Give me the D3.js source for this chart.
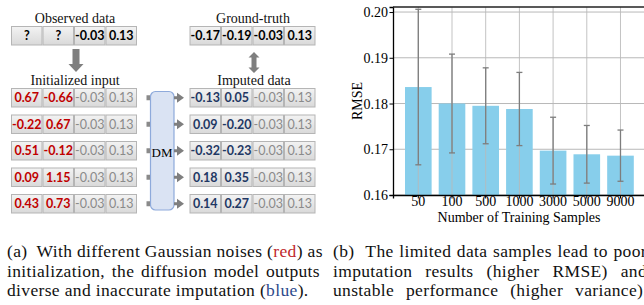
<!DOCTYPE html>
<html>
<head>
<meta charset="utf-8">
<script src="https://cdn.jsdelivr.net/npm/d3@7"></script>
<style>
  body { margin: 0; background: #fff; }
  svg { display: block; }
  .serif { font-family: 'Liberation Serif', 'Times New Roman', Times, 'DejaVu Serif', 'Noto Serif', serif; }
</style>
</head>
<body>
<svg width="644" height="305"></svg>
<script>
// ---- data for panel (a)
const observed = ["?", "?", "-0.03", "0.13"];
const groundTruth = ["-0.17", "-0.19", "-0.03", "0.13"];
const knownValues = ["-0.03", "0.13"];
const noiseInit = [["0.67", "-0.66"], ["-0.22", "0.67"], ["0.51", "-0.12"], ["0.09", "1.15"], ["0.43", "0.73"]];
const imputedValues = [["-0.13", "0.05"], ["0.09", "-0.20"], ["-0.32", "-0.23"], ["0.18", "0.35"], ["0.14", "0.27"]];

// ---- data for panel (b)
const sampleSizes = ["50", "100", "500", "1000", "3000", "5000", "9000"];
const rmseMean = [0.1836, 0.1800, 0.1795, 0.1788, 0.1697, 0.1689, 0.1686];
const rmseStd = [0.0170, 0.0108, 0.0083, 0.0080, 0.0073, 0.0063, 0.0056];
const rmseTicks = [0.16, 0.17, 0.18, 0.19, 0.20];

const svg = d3.select('svg');
const sans = 'Lato, "Open Sans", sans-serif';

const defs = svg.append('defs');
const grad = defs.append('linearGradient').attr('id', 'cellFill')
  .attr('x1', 0).attr('y1', 0).attr('x2', 0).attr('y2', 1);
grad.append('stop').attr('offset', 0).attr('stop-color', '#f3f3f3');
grad.append('stop').attr('offset', 1).attr('stop-color', '#d9d9d9');

// ================= panel (a): the diagram =================
const a = svg.append('g');
const leftCols = d3.scaleBand().domain(d3.range(4)).range([11, 137]);
const rightCols = d3.scaleBand().domain(d3.range(4)).range([189.5, 315.5]);
const rowScale = d3.scaleBand().domain(d3.range(5)).range([88, 213.5]).paddingInner(0.264);
const rowH = rowScale.bandwidth();

// draw one row of four cells; cells = [{text, color, bold}]
function drawRow(cols, y, cells) {
  const g = a.append('g').attr('transform', `translate(0,${y})`);
  const c = g.selectAll('g').data(cells).enter().append('g');
  c.append('rect')
    .attr('x', (d, i) => cols(i) + 0.5)
    .attr('y', 0.5)
    .attr('width', cols.bandwidth() - 1)
    .attr('height', rowH - 1)
    .attr('fill', 'url(#cellFill)')
    .attr('stroke', '#b5b5b5')
    .attr('stroke-width', 1);
  c.append('text')
    .attr('x', (d, i) => cols(i) + cols.bandwidth() / 2)
    .attr('y', rowH / 2)
    .attr('dy', '0.36em')
    .attr('text-anchor', 'middle')
    .style('font-family', sans)
    .style('font-size', '12.5px')
    .style('font-weight', d => d.bold ? 700 : 400)
    .attr('fill', d => d.color)
    .text(d => d.text);
}

const plain = (v, color) => ({ text: v, color: color, bold: true });
const known = knownValues.map(v => ({ text: v, color: '#8a8a8a', bold: false }));

drawRow(leftCols, 26, observed.map(v => plain(v, '#000')));
drawRow(rightCols, 26, groundTruth.map(v => plain(v, '#000')));
noiseInit.forEach((r, i) => drawRow(leftCols, rowScale(i), r.map(v => plain(v, '#c00000')).concat(known)));
imputedValues.forEach((r, i) => drawRow(rightCols, rowScale(i), r.map(v => plain(v, '#1f3864')).concat(known)));

// titles
const titles = [
  { text: 'Observed data', x: 75, y: 23 },
  { text: 'Ground-truth', x: 253, y: 23 },
  { text: 'Initialized input', x: 75, y: 85 },
  { text: 'Imputed data', x: 254, y: 85 }
];
a.selectAll('.ttl').data(titles).enter().append('text')
  .attr('class', 'serif')
  .attr('x', d => d.x).attr('y', d => d.y)
  .attr('text-anchor', 'middle')
  .attr('font-size', 14)
  .attr('fill', '#111')
  .text(d => d.text);

// down arrow observed -> initialized
a.append('path')
  .attr('d', 'M72.5,49 h7 v15 h4 l-7.5,8 l-7.5,-8 h4 z')
  .attr('fill', '#7f7f7f');
// double arrow ground truth <-> imputed
a.append('path')
  .attr('d', 'M254,52 l5.5,5.5 h-3 v10 h3 l-5.5,5.5 l-5.5,-5.5 h3 v-10 h-3 z')
  .attr('fill', '#7f7f7f');

// DM box
a.append('rect')
  .attr('x', 150.5).attr('y', 91.5).attr('width', 23.5).attr('height', 118.5)
  .attr('rx', 5)
  .attr('fill', '#dae3f3').attr('stroke', '#8eaadb').attr('stroke-width', 1.2);
a.append('text')
  .attr('class', 'serif')
  .attr('x', 162).attr('y', 152).attr('dy', '0.35em')
  .attr('text-anchor', 'middle')
  .attr('font-size', 13)
  .text('DM');

// connectors in/out of the DM box
d3.range(5).forEach(i => {
  const cy = rowScale(i) + rowH / 2;
  a.append('rect').attr('x', 146.5).attr('y', cy - 2.5).attr('width', 3.5).attr('height', 5).attr('fill', '#8a8a8a');
  a.append('path')
    .attr('d', `M174,${cy - 1.5} h3 v-3.5 l7,5 l-7,5 v-3.5 h-3 z`)
    .attr('fill', '#7f7f7f');
});

// ================= panel (b): the bar chart =================
const x = d3.scaleBand().domain(sampleSizes).range([393, 645.8]).paddingInner(0.21).paddingOuter(0.356);
const y = d3.scaleLinear().domain([0.16, 0.2011]).range([195, 7]);
const b = svg.append('g');
const rows = sampleSizes.map((s, i) => ({ s: s, m: rmseMean[i], e: rmseStd[i] }));

// horizontal grid behind bars
b.selectAll('.hgrid').data(rmseTicks).enter().append('line')
  .attr('x1', 393).attr('x2', 646)
  .attr('y1', d => y(d)).attr('y2', d => y(d))
  .attr('stroke', '#b8b8b8').attr('stroke-width', 1);

b.selectAll('.bar').data(rows).enter().append('rect')
  .attr('x', d => x(d.s))
  .attr('y', d => y(d.m))
  .attr('width', x.bandwidth())
  .attr('height', d => y(0.16) - y(d.m))
  .attr('fill', '#87ceeb');

// vertical grid
b.selectAll('.vgrid').data(sampleSizes).enter().append('line')
  .attr('x1', d => x(d) + x.bandwidth() / 2).attr('x2', d => x(d) + x.bandwidth() / 2)
  .attr('y1', 7).attr('y2', 195)
  .attr('stroke', '#b8b8b8').attr('stroke-opacity', 0.85).attr('stroke-width', 1);

// error bars
const eb = b.selectAll('.err').data(rows).enter().append('g')
  .attr('transform', d => `translate(${x(d.s) + x.bandwidth() / 2},0)`)
  .attr('stroke', '#7d7d7d').attr('stroke-width', 1.3);
eb.append('line').attr('y1', d => y(d.m - d.e)).attr('y2', d => y(d.m + d.e));
eb.append('line').attr('x1', -3).attr('x2', 3).attr('y1', d => y(d.m + d.e)).attr('y2', d => y(d.m + d.e));
eb.append('line').attr('x1', -3).attr('x2', 3).attr('y1', d => y(d.m - d.e)).attr('y2', d => y(d.m - d.e));

// axes
const yAxis = b.append('g').attr('transform', 'translate(393,0)')
  .call(d3.axisLeft(y).tickValues(rmseTicks).tickFormat(d3.format('.2f')).tickSize(3.5).tickPadding(1.5));
const xAxis = b.append('g').attr('transform', 'translate(0,195)')
  .call(d3.axisBottom(x).tickSize(3.5).tickPadding(2));
[yAxis, xAxis].forEach(ax => {
  ax.attr('font-family', null).attr('font-size', null);
  ax.select('.domain').attr('stroke', '#000').attr('stroke-width', 1.3);
  ax.selectAll('.tick line').attr('stroke', '#000');
  ax.selectAll('.tick text').attr('class', 'serif').attr('font-size', 14).attr('fill', '#000');
});
xAxis.selectAll('.tick text').attr('y', 1.5);
b.append('line').attr('x1', 393).attr('x2', 646).attr('y1', 7).attr('y2', 7)
  .attr('stroke', '#222').attr('stroke-width', 1.3);

b.append('text')
  .attr('class', 'serif')
  .attr('transform', 'translate(362,101) rotate(-90)')
  .attr('text-anchor', 'middle')
  .attr('font-size', 14)
  .text('RMSE');
b.append('text')
  .attr('class', 'serif')
  .attr('x', 519).attr('y', 222)
  .attr('text-anchor', 'middle')
  .attr('font-size', 14)
  .text('Number of Training Samples');

// ================= captions =================
// each line: list of [text, colour] pieces; end = right edge for justified lines
const captionA = [
  { x: 7, y: 257, end: 320, parts: [['(a)  With different Gaussian noises (', '#111'], ['red', '#c0282d'], [') as', '#111']] },
  { x: 7, y: 276.5, end: 320, parts: [['initialization, the diffusion model outputs', '#111']] },
  { x: 7, y: 296, end: null, parts: [['diverse and inaccurate imputation (', '#111'], ['blue', '#2e4a8b'], [').', '#111']] }
];
const captionB = [
  { x: 333, y: 257, end: 647, parts: [['(b)  The limited data samples lead to poor', '#111']] },
  { x: 333, y: 276.5, end: 647, parts: [['imputation results (higher RMSE) and', '#111']] },
  { x: 333, y: 296, end: 648, parts: [['unstable performance (higher variance).', '#111']] }
];

captionA.concat(captionB).forEach(line => {
  const t = svg.append('text')
    .attr('class', 'serif')
    .attr('x', line.x).attr('y', line.y)
    .attr('xml:space', 'preserve')
    .attr('font-size', 17.5)
    .style('letter-spacing', '0.35px');
  line.parts.forEach(p => t.append('tspan').attr('fill', p[1]).text(p[0]));
  if (line.end) {
    const full = line.parts.map(p => p[0]).join('');
    const gaps = full.split(' ').length - 1;
    const w = t.node().getComputedTextLength();
    const extra = (line.end - line.x - w) / gaps;
    if (extra > 0) t.style('word-spacing', extra + 'px');
  }
});
</script>
</body>
</html>
